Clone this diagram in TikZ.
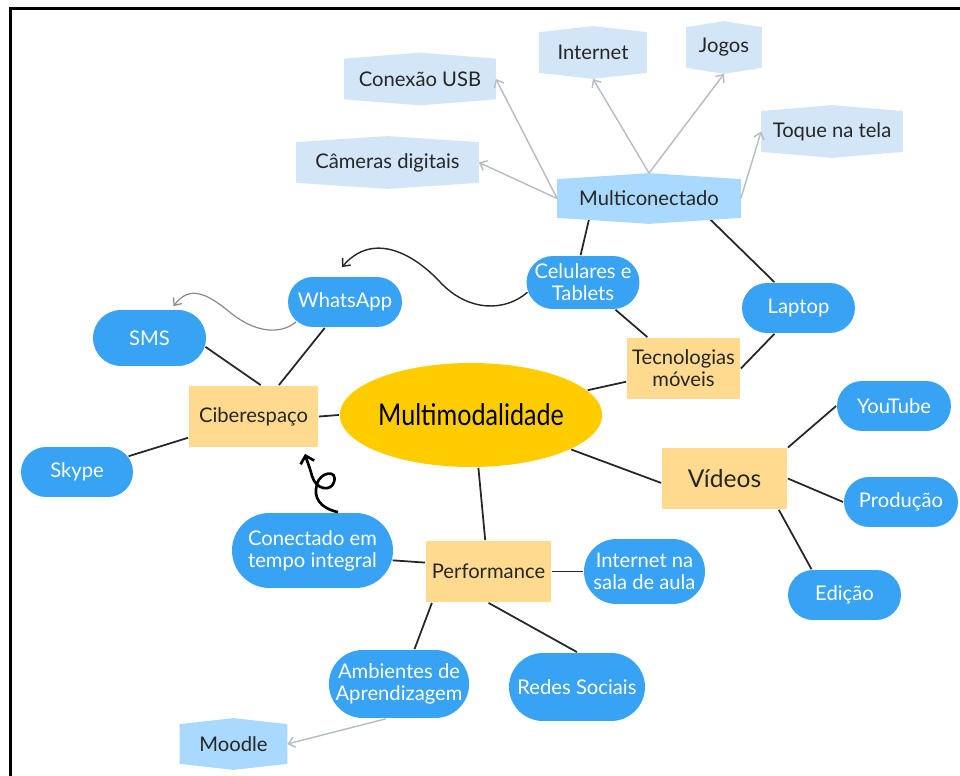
\documentclass[tikz,border=0pt]{standalone}
\usepackage{fontspec}
\setmainfont{Lato}
\newfontfamily\narrowfont[FakeStretch=0.84]{Lato}
\usetikzlibrary{shapes.misc,shapes.geometric,arrows.meta,calc}
\pgfdeclarelayer{edges}
\pgfdeclarelayer{tagfill}
\pgfsetlayers{edges,tagfill,main}

\definecolor{pillblue}{HTML}{38A2F3}
\definecolor{hubyellow}{HTML}{FFDA8F}
\definecolor{coregold}{HTML}{FFCC00}
\definecolor{tagblue}{HTML}{D3E6F7}
\definecolor{hexblue}{HTML}{A9D9FF}
\definecolor{linkgray}{HTML}{B5BCC3}
\definecolor{inkdark}{HTML}{262626}

\begin{document}
\begin{tikzpicture}[x=0.02cm,y=-0.02cm,>={Straight Barb[length=3.5pt,width=6pt]},line width=1pt,
  font=\fontsize{11.5}{12.5}\selectfont,
  pill/.style={rounded rectangle,fill=pillblue,text=white,inner sep=0pt,align=center,minimum width=2.26cm,minimum height=1cm},
  hub/.style={rectangle,fill=hubyellow,text=inkdark,inner sep=0pt,align=center,minimum height=1.22cm},
  tag/.style={rectangle,inner sep=0pt,text=inkdark,minimum height=0.78cm},
  link/.style={draw=inkdark,line width=1pt},
  ref/.style={->,draw=linkgray,line width=0.8pt}]
  \useasboundingbox (0,0) rectangle (960,776);
  \draw[line width=1.7pt] (10.5,776) -- (10.5,9) -- (960,9);

  % 中心
  \node[ellipse,fill=coregold,minimum width=4.76cm,minimum height=2.08cm,inner sep=0pt,
    font=\narrowfont\fontsize{17}{19}\selectfont] (core) at (471,415) {Multimodalidade};
  \node[hub,minimum width=2.58cm] (cib) at (253.5,416.5) {Ciberespaço};
  \node[hub,minimum width=2.26cm] (tec) at (683.5,368.5) {Tecnologias\\móveis};
  \node[hub,minimum width=2.5cm,font=\fontsize{14}{16}\selectfont] (vid) at (724.5,478.5) {Vídeos};
  \node[hub,minimum width=2.5cm] (perf) at (488.5,571.5) {Performance};

  % 蓝色节点
  \node[pill,minimum width=2.28cm] (wa) at (345,302) {WhatsApp};
  \node[pill,minimum height=1.12cm] (sms) at (149.5,338) {SMS};
  \node[pill,minimum width=2.24cm] (sky) at (77,472) {Skype};
  \node[pill,minimum height=1.06cm] (cel) at (583,282.5) {Celulares e\\Tablets};
  \node[pill] (lap) at (798.5,308) {Laptop};
  \node[pill,minimum width=2.28cm] (yt) at (894,406) {YouTube};
  \node[pill,minimum width=2.28cm] (prod) at (901,502) {Produção};
  \node[pill] (edi) at (844.5,595) {Edição};
  \node[pill,minimum width=3.22cm,minimum height=1.5cm] (con) at (312.5,550.5) {Conectado em\\tempo integral};
  \node[pill,minimum width=2.42cm,minimum height=1.3cm] (isa) at (644.5,571.5) {Internet na\\sala de aula};
  \node[pill,minimum width=2.68cm,minimum height=1.36cm] (amb) at (399,684) {Ambientes de\\Aprendizagem};
  \node[pill,minimum width=2.72cm,minimum height=1.36cm] (red) at (577,687) {Redes Sociais};

  % 标签
  \node[tag,minimum width=3.64cm,minimum height=0.74cm] (multi) at (649,198.5) {Multiconectado};
  \node[tag,minimum width=3cm] (usb) at (420,79) {Conexão USB};
  \node[tag,minimum width=2.12cm] (inet) at (593,52.5) {Internet};
  \node[tag,minimum width=1.48cm] (jog) at (724,47.5) {Jogos};
  \node[tag,minimum width=3.62cm] (cam) at (387.5,162.5) {Câmeras digitais};
  \node[tag,minimum width=2.8cm] (toq) at (832,131.5) {Toque na tela};
  \node[tag,minimum width=2.12cm,minimum height=0.76cm] (mood) at (233.5,744) {Moodle};
  \begin{pgfonlayer}{tagfill}
    \foreach \n/\c in {multi/hexblue,usb/tagblue,inet/tagblue,jog/tagblue,cam/tagblue,toq/tagblue,mood/hexblue}
      \fill[\c] ($(\n.north)+(0,-6)$) -- (\n.north east) -- (\n.south east) -- ($(\n.south)+(0,6)$)
        -- (\n.south west) -- (\n.north west) -- cycle;
  \end{pgfonlayer}

  % 连线
  \begin{pgfonlayer}{edges}
    \draw[link] (multi.198) -- (cel.95);
    \draw[link] (multi.342) -- (lap.133);
    \draw[link] (cel.320) -- (tec.139);
    \draw[link] (lap.227) -- (tec.east);
    \draw[link] (tec.193) -- (core.12);
    \draw[link] (wa.232) -- (cib.51);
    \draw[link] (sms.351) -- (cib.77);
    \draw[link] (sky.17) -- (cib.198);
    \draw[link] (cib.east) -- (core.west);
    \draw[link] (core.341) -- (vid.184);
    \draw[link] (vid.26) -- (yt.west);
    \draw[link] (vid.east) -- (prod.west);
    \draw[link] (vid.330) -- (edi.142);
    \draw[link] (core.278) -- (perf.96);
    \draw[link] (perf.172) -- (con.353);
    \draw[link] (perf.east) -- (isa.west);
    \draw[link] (perf.209) -- (amb.66);
    \draw[link] (perf.south) -- (red.north);
  \end{pgfonlayer}

  % 灰色箭头
  \coordinate (multitop) at ($(multi.north)+(0,-6)$);
  \draw[ref] (multi.west) -- (usb.east);
  \draw[ref] (multi.west) -- (cam.east);
  \draw[ref] (multitop) -- ($(inet.south)+(0,6)$);
  \draw[ref] (multitop) -- ($(jog.south)+(0,6)$);
  \draw[ref] (multi.east) -- (toq.west);
  \draw[ref] (amb.249) -- (mood.east);

  % 曲线箭头
  \draw[->,inkdark,line width=0.8pt] (cel.190) .. controls (505,312) and (468,312) .. (440,282)
    .. controls (412,252) and (372,232) .. ($(wa.north)+(-3,-9)$);
  \draw[->,black!45,line width=0.7pt] (wa.202) .. controls (282,334) and (258,334) .. (232,314)
    .. controls (208,294) and (190,284) .. ($(sms.north)+(24,-3)$);
  \draw[->,black,line width=1.5pt,>={Straight Barb[length=4pt,width=8pt]}] ($(con.north)+(25.5,0)$)
    .. controls (320,508) and (313,498) .. (317,484) .. controls (320,472) and (338,469) .. (334,482)
    .. controls (331,492) and (316,490) .. (312,476) .. controls (310,468) and (307,461) .. ($(cib.south)+(51.5,6)$);
\end{tikzpicture}
\end{document}
